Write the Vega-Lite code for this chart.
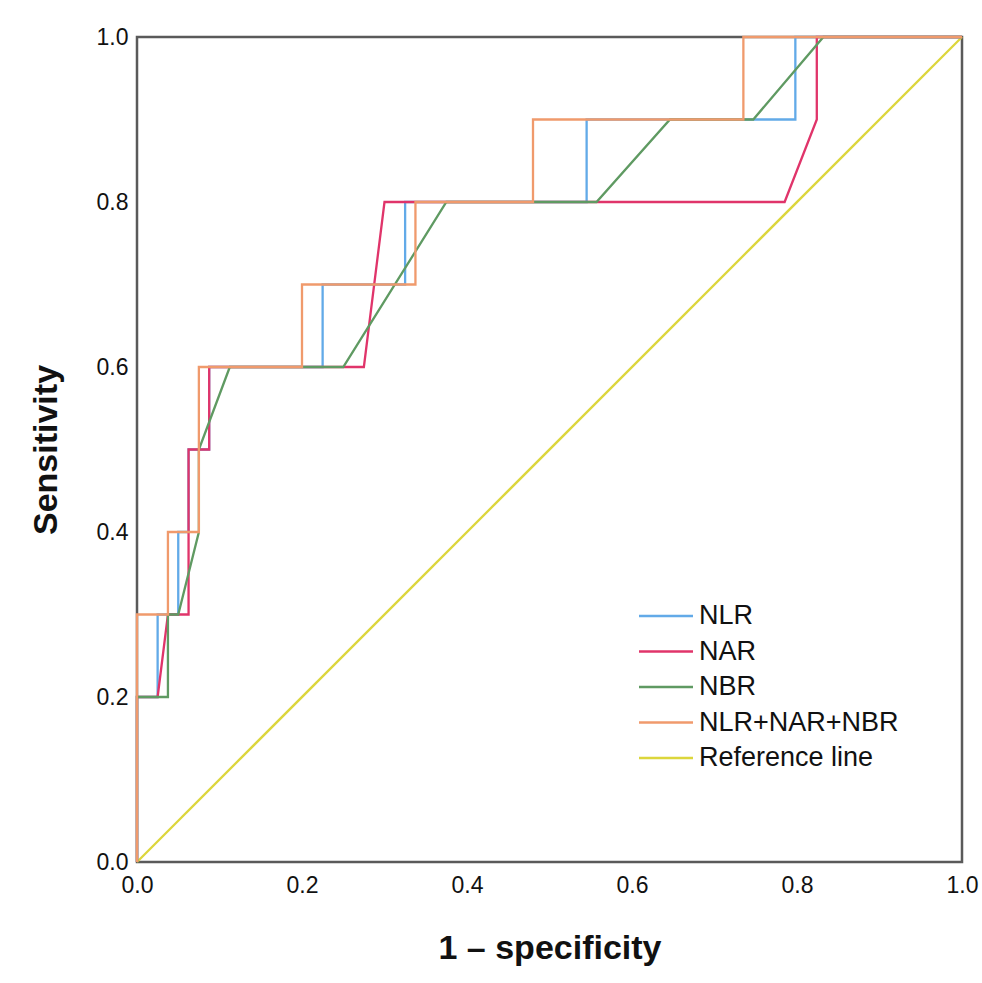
{
  "$schema": "https://vega.github.io/schema/vega-lite/v6.json",
  "width": 825,
  "height": 825,
  "autosize": "none",
  "padding": {"left": 137, "top": 37, "right": 20, "bottom": 121},
  "background": "white",
  "config": {
    "view": {"stroke": "#5a5a5a", "strokeWidth": 2.5},
    "font": "Liberation Sans",
    "axis": {"domain": false, "grid": false, "ticks": false, "labelFont": "Liberation Sans", "labelColor": "#111", "titleColor": "#111", "titleFont": "Liberation Sans", "titleFontWeight": "bold"}
  },
  "data": {"values": [
    {"curve": "Reference line", "i": 0, "fpr": 0, "tpr": 0},
    {"curve": "Reference line", "i": 1, "fpr": 1, "tpr": 1},

    {"curve": "NLR", "i": 0, "fpr": 0, "tpr": 0},
    {"curve": "NLR", "i": 1, "fpr": 0, "tpr": 0.2},
    {"curve": "NLR", "i": 2, "fpr": 0.025, "tpr": 0.2},
    {"curve": "NLR", "i": 3, "fpr": 0.025, "tpr": 0.3},
    {"curve": "NLR", "i": 4, "fpr": 0.05, "tpr": 0.3},
    {"curve": "NLR", "i": 5, "fpr": 0.05, "tpr": 0.4},
    {"curve": "NLR", "i": 6, "fpr": 0.0625, "tpr": 0.4},
    {"curve": "NLR", "i": 7, "fpr": 0.0625, "tpr": 0.5},
    {"curve": "NLR", "i": 8, "fpr": 0.0875, "tpr": 0.5},
    {"curve": "NLR", "i": 9, "fpr": 0.0875, "tpr": 0.6},
    {"curve": "NLR", "i": 10, "fpr": 0.225, "tpr": 0.6},
    {"curve": "NLR", "i": 11, "fpr": 0.225, "tpr": 0.7},
    {"curve": "NLR", "i": 12, "fpr": 0.325, "tpr": 0.7},
    {"curve": "NLR", "i": 13, "fpr": 0.325, "tpr": 0.8},
    {"curve": "NLR", "i": 14, "fpr": 0.545, "tpr": 0.8},
    {"curve": "NLR", "i": 15, "fpr": 0.545, "tpr": 0.9},
    {"curve": "NLR", "i": 16, "fpr": 0.798, "tpr": 0.9},
    {"curve": "NLR", "i": 17, "fpr": 0.798, "tpr": 1},
    {"curve": "NLR", "i": 18, "fpr": 1, "tpr": 1},

    {"curve": "NAR", "i": 0, "fpr": 0, "tpr": 0},
    {"curve": "NAR", "i": 1, "fpr": 0, "tpr": 0.2},
    {"curve": "NAR", "i": 2, "fpr": 0.025, "tpr": 0.2},
    {"curve": "NAR", "i": 3, "fpr": 0.0375, "tpr": 0.3},
    {"curve": "NAR", "i": 4, "fpr": 0.0625, "tpr": 0.3},
    {"curve": "NAR", "i": 5, "fpr": 0.0625, "tpr": 0.5},
    {"curve": "NAR", "i": 6, "fpr": 0.0875, "tpr": 0.5},
    {"curve": "NAR", "i": 7, "fpr": 0.0875, "tpr": 0.6},
    {"curve": "NAR", "i": 8, "fpr": 0.275, "tpr": 0.6},
    {"curve": "NAR", "i": 9, "fpr": 0.3, "tpr": 0.8},
    {"curve": "NAR", "i": 10, "fpr": 0.785, "tpr": 0.8},
    {"curve": "NAR", "i": 11, "fpr": 0.824, "tpr": 0.9},
    {"curve": "NAR", "i": 12, "fpr": 0.824, "tpr": 1},
    {"curve": "NAR", "i": 13, "fpr": 1, "tpr": 1},

    {"curve": "NBR", "i": 0, "fpr": 0, "tpr": 0},
    {"curve": "NBR", "i": 1, "fpr": 0, "tpr": 0.2},
    {"curve": "NBR", "i": 2, "fpr": 0.0375, "tpr": 0.2},
    {"curve": "NBR", "i": 3, "fpr": 0.0375, "tpr": 0.3},
    {"curve": "NBR", "i": 4, "fpr": 0.05, "tpr": 0.3},
    {"curve": "NBR", "i": 5, "fpr": 0.075, "tpr": 0.4},
    {"curve": "NBR", "i": 6, "fpr": 0.075, "tpr": 0.5},
    {"curve": "NBR", "i": 7, "fpr": 0.1125, "tpr": 0.6},
    {"curve": "NBR", "i": 8, "fpr": 0.25, "tpr": 0.6},
    {"curve": "NBR", "i": 9, "fpr": 0.375, "tpr": 0.8},
    {"curve": "NBR", "i": 10, "fpr": 0.557, "tpr": 0.8},
    {"curve": "NBR", "i": 11, "fpr": 0.646, "tpr": 0.9},
    {"curve": "NBR", "i": 12, "fpr": 0.747, "tpr": 0.9},
    {"curve": "NBR", "i": 13, "fpr": 0.832, "tpr": 1},
    {"curve": "NBR", "i": 14, "fpr": 1, "tpr": 1},

    {"curve": "NLR+NAR+NBR", "i": 0, "fpr": 0, "tpr": 0},
    {"curve": "NLR+NAR+NBR", "i": 1, "fpr": 0, "tpr": 0.3},
    {"curve": "NLR+NAR+NBR", "i": 2, "fpr": 0.0375, "tpr": 0.3},
    {"curve": "NLR+NAR+NBR", "i": 3, "fpr": 0.0375, "tpr": 0.4},
    {"curve": "NLR+NAR+NBR", "i": 4, "fpr": 0.075, "tpr": 0.4},
    {"curve": "NLR+NAR+NBR", "i": 5, "fpr": 0.075, "tpr": 0.6},
    {"curve": "NLR+NAR+NBR", "i": 6, "fpr": 0.2, "tpr": 0.6},
    {"curve": "NLR+NAR+NBR", "i": 7, "fpr": 0.2, "tpr": 0.7},
    {"curve": "NLR+NAR+NBR", "i": 8, "fpr": 0.3375, "tpr": 0.7},
    {"curve": "NLR+NAR+NBR", "i": 9, "fpr": 0.3375, "tpr": 0.8},
    {"curve": "NLR+NAR+NBR", "i": 10, "fpr": 0.48, "tpr": 0.8},
    {"curve": "NLR+NAR+NBR", "i": 11, "fpr": 0.48, "tpr": 0.9},
    {"curve": "NLR+NAR+NBR", "i": 12, "fpr": 0.735, "tpr": 0.9},
    {"curve": "NLR+NAR+NBR", "i": 13, "fpr": 0.735, "tpr": 1},
    {"curve": "NLR+NAR+NBR", "i": 14, "fpr": 1, "tpr": 1}
  ]},
  "mark": {"type": "line", "strokeWidth": 2.3, "clip": false},
  "encoding": {
    "x": {"field": "fpr", "type": "quantitative", "scale": {"domain": [0, 1], "nice": false},
      "axis": {"title": "1 \u2013 specificity", "values": [0, 0.2, 0.4, 0.6, 0.8, 1], "format": ".1f", "labelFontSize": 23, "labelPadding": 12, "titleFontSize": 34, "titlePadding": 34, "labelFlush": false}},
    "y": {"field": "tpr", "type": "quantitative", "scale": {"domain": [0, 1], "nice": false},
      "axis": {"title": "Sensitivity", "values": [0, 0.2, 0.4, 0.6, 0.8, 1], "format": ".1f", "labelFontSize": 23, "labelPadding": 9, "titleFontSize": 34, "titlePadding": 33, "labelFlush": false}},
    "color": {"field": "curve", "type": "nominal",
      "scale": {"domain": ["NLR", "NAR", "NBR", "NLR+NAR+NBR", "Reference line"], "range": ["#62aae8", "#e0346a", "#5f9a62", "#f09a6c", "#dcd63c"]},
      "legend": {"title": null, "orient": "none", "legendX": 500.5, "legendY": 564, "symbolType": "M-1,0H3", "symbolSize": 729, "symbolStrokeWidth": 2.5, "labelFontSize": 27, "labelFont": "Liberation Sans", "labelColor": "#111", "labelOffset": 31.5, "rowPadding": 7.5, "labelLimit": 400}},
    "order": {"field": "i", "type": "quantitative"}
  }
}
